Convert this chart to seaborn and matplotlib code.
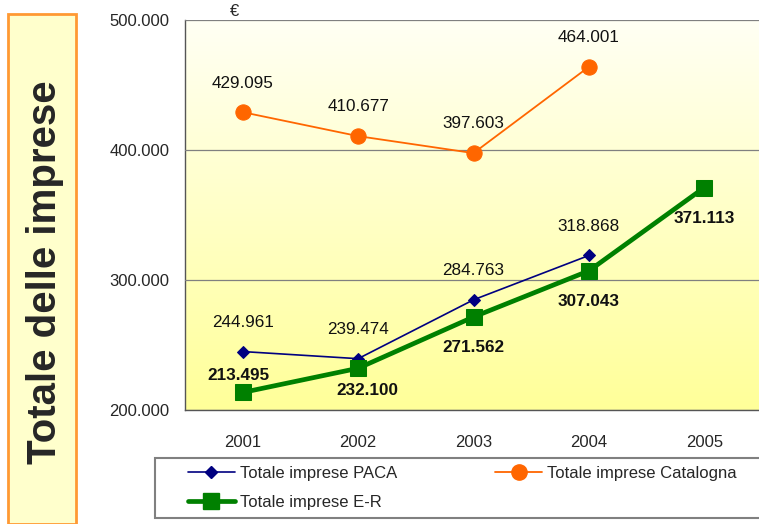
import numpy as np
import pandas as pd
import matplotlib
matplotlib.use("Agg")
import matplotlib.pyplot as plt
from matplotlib.colors import LinearSegmentedColormap
from matplotlib.patches import Rectangle
from matplotlib.lines import Line2D
import seaborn as sns

# data (values in euro)
years = [2001, 2002, 2003, 2004, 2005]
paca = [244961, 239474, 284763, 318868]
catalogna = [429095, 410677, 397603, 464001]
emilia = [213495, 232100, 271562, 307043, 371113]
y_ticks = [200000, 300000, 400000, 500000]


def fmt(v):
    return f"{v:,}".replace(",", ".")


sns.set_style("white")
plt.rcParams["font.family"] = ["Liberation Sans", "DejaVu Sans"]

fig = plt.figure(figsize=(7.59, 5.24), dpi=100)
W, H = 759, 524
ax = fig.add_axes([185 / W, 1 - 410 / H, 577 / W, 390 / H])

# gradient background
cmap = LinearSegmentedColormap.from_list("bg", ["#FFFF99", "#FFFFF4"])
grad = np.linspace(0, 1, 256).reshape(-1, 1)
ax.imshow(grad, cmap=cmap, aspect="auto", origin="lower",
          extent=[2000.5, 2005.5, 200000, 500000], zorder=0)

df_paca = pd.DataFrame({"anno": years[:4], "valore": paca})
df_cat = pd.DataFrame({"anno": years[:4], "valore": catalogna})
df_er = pd.DataFrame({"anno": years, "valore": emilia})

sns.lineplot(data=df_paca, x="anno", y="valore", ax=ax, color="#000080",
             lw=1.2, marker="D", ms=6, mec="#000080", zorder=4)
sns.lineplot(data=df_cat, x="anno", y="valore", ax=ax, color="#FF6600",
             lw=1.3, marker="o", ms=11, mec="#FF6600", zorder=4)
sns.lineplot(data=df_er, x="anno", y="valore", ax=ax, color="#008000",
             lw=3.4, marker="s", ms=11, mec="#008000", zorder=5)

# data labels
for x, v in zip(years, paca):
    ax.annotate(fmt(v), (x, v), xytext=(0, 21), textcoords="offset points",
                ha="center", va="center", fontsize=12.3, color="#111111")
for x, v in zip(years, catalogna):
    ax.annotate(fmt(v), (x, v), xytext=(0, 21), textcoords="offset points",
                ha="center", va="center", fontsize=12.3, color="#111111")
er_off = [(-3, 12), (7, -16), (0, -22), (0, -22), (0, -22)]
for x, v, off in zip(years, emilia, er_off):
    ax.annotate(fmt(v), (x, v), xytext=off, textcoords="offset points",
                ha="center", va="center", fontsize=12.3, fontweight="bold",
                color="#111111")

ax.set_xlim(2000.5, 2005.5)
ax.set_ylim(200000, 500000)
ax.set_yticks(y_ticks)
ax.set_yticklabels([fmt(v) for v in y_ticks], fontsize=12)
ax.set_xticks(years)
ax.set_xticklabels([str(y) for y in years], fontsize=12)
ax.set_xticks([2000.5 + i for i in range(6)], minor=True)
ax.tick_params(axis="x", which="major", length=0, pad=18)
ax.tick_params(axis="x", which="minor", length=5, width=1, color="#333333",
               direction="out")
ax.tick_params(axis="y", length=5, width=1, color="#333333", direction="out",
               pad=6)
ax.set_xlabel("")
ax.set_ylabel("")
ax.grid(axis="y", color="#808080", lw=0.9, zorder=1)
ax.set_axisbelow(False)
for s in ["top", "right"]:
    ax.spines[s].set_visible(False)
for s in ["left", "bottom"]:
    ax.spines[s].set_color("#555555")
    ax.spines[s].set_linewidth(1)

fig.text(235 / W, 1 - 12 / H, "€", fontsize=12, ha="center", va="center")

# left title panel
fig.patches.append(Rectangle((8 / W, 1 - 524 / H), 68 / W, 510 / H,
                             transform=fig.transFigure, facecolor="#FFFFCC",
                             edgecolor="#FF9933", lw=2, zorder=0))
fig.text(45 / W, 1 - 272 / H, "Totale delle imprese", rotation=90,
         fontsize=29, fontweight="bold", ha="center", va="center")

# legend box
fig.patches.append(Rectangle((155 / W, 1 - 518 / H), 620 / W, 60 / H,
                             transform=fig.transFigure, facecolor="white",
                             edgecolor="#808080", lw=1.5, zorder=1))
handles = [
    Line2D([], [], color="#000080", lw=1.2, marker="D", ms=6),
    Line2D([], [], color="#008000", lw=3.4, marker="s", ms=11),
    Line2D([], [], color="#FF6600", lw=1.3, marker="o", ms=11),
]
labels = ["Totale imprese PACA", "Totale imprese E-R",
          "Totale imprese Catalogna"]
fig.legend(handles, labels, loc="upper left",
           bbox_to_anchor=(188 / W, 1 - 466 / H), ncol=2, frameon=False,
           fontsize=12, handlelength=2.8, handletextpad=0.3,
           columnspacing=5.9, labelspacing=0.85, borderpad=0,
           borderaxespad=0)

fig.savefig("out.png", dpi=100)
